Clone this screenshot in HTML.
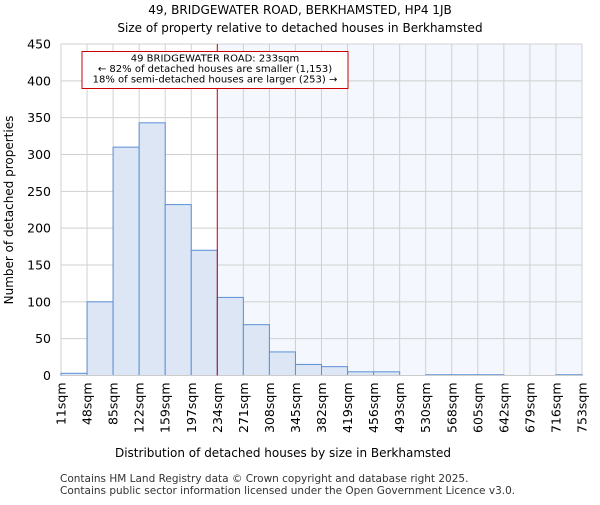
<!DOCTYPE html>
<html><head><meta charset="utf-8"><style>
body{margin:0;background:#fff;font-family:"Liberation Sans","DejaVu Sans",sans-serif;}
svg text{font-family:"DejaVu Sans","Liberation Sans",sans-serif;}
</style></head><body>
<svg id="chart" width="600" height="500">
<text x="300" y="14" text-anchor="middle" font-size="12">49, BRIDGEWATER ROAD, BERKHAMSTED, HP4 1JB</text>
<text x="300" y="32" text-anchor="middle" font-size="12">Size of property relative to detached houses in Berkhamsted</text>
<g id="plot"></g>
<text x="283" y="457" text-anchor="middle" font-size="12">Distribution of detached houses by size in Berkhamsted</text>
<text transform="translate(13,210) rotate(-90)" text-anchor="middle" font-size="12">Number of detached properties</text>
<text x="60" y="482" font-size="10.5" fill="#333">Contains HM Land Registry data © Crown copyright and database right 2025.</text>
<text x="60" y="494" font-size="10.5" fill="#333">Contains public sector information licensed under the Open Government Licence v3.0.</text>
</svg>
<script>
const tickLabels=["11sqm","48sqm","85sqm","122sqm","159sqm","197sqm","234sqm","271sqm","308sqm","345sqm","382sqm","419sqm","456sqm","493sqm","530sqm","568sqm","605sqm","642sqm","679sqm","716sqm","753sqm"];
const counts=[3,100,310,343,232,170,106,69,32,15,12,5,5,0,1,1,1,0,0,1];
const yTicks=[0,50,100,150,200,250,300,350,400,450];
const markerBin=6;
const X0=61,X1=582,Y0=375.5,Y1=44,YMAX=450;
const bw=(X1-X0)/counts.length;
const xs=i=>X0+i*bw;
const ys=v=>Y0-(v/YMAX)*(Y0-Y1);
const NS="http://www.w3.org/2000/svg";
const g=document.getElementById('plot');
function mk(t,a){const e=document.createElementNS(NS,t);for(const k in a)e.setAttribute(k,a[k]);g.appendChild(e);return e;}
let shade=mk('rect',{x:xs(markerBin),y:Y1,width:X1-xs(markerBin),height:Y0-Y1,fill:'#f4f7fd'});


yTicks.forEach(v=>{
 let l=mk('line',{x1:X0,x2:X1,y1:ys(v),y2:ys(v),stroke:'#d0d0d0','stroke-width':1});
 
 
 let t=mk('text',{x:X0-10,y:ys(v)+4.5,'text-anchor':'end','font-size':'12.5'});
 t.textContent=v;
 
 
});
tickLabels.forEach((s,i)=>{
 let l=mk('line',{x1:xs(i),x2:xs(i),y1:Y1,y2:Y0,stroke:'#d0d0d0','stroke-width':1});
 
 
 let t=mk('text',{transform:`translate(${xs(i)+4.5},${Y0+7}) rotate(-90)`,'text-anchor':'end','font-size':'12.5'});
 t.textContent=s;
 
 
});
counts.forEach((c,i)=>{
 if(c<=0)return;
 let r=mk('rect',{x:xs(i),y:ys(c),width:bw,height:Y0-ys(c),fill:'#dce6f5',stroke:'#5b8fd6','stroke-width':1});
 
 
});
let ax=mk('line',{x1:X0,x2:X1,y1:Y0,y2:Y0,stroke:'#cccccc'});


let ml=mk('line',{x1:xs(markerBin),x2:xs(markerBin),y1:Y1,y2:Y0,stroke:'#dd0000','stroke-width':1});


let box=mk('rect',{x:82,y:51.5,width:266,height:37,fill:'#fff',stroke:'#cc0000','stroke-width':1});


["49 BRIDGEWATER ROAD: 233sqm","← 82% of detached houses are smaller (1,153)","18% of semi-detached houses are larger (253) →"].forEach((s,i)=>{
 let t=mk('text',{x:215,y:61.5+i*10.5,'text-anchor':'middle','font-size':'10','textLength':i==0?'':'','lengthAdjust':'spacing'});
 t.removeAttribute('textLength');
 t.textContent=s;
 
 
});
</script>
</body></html>
